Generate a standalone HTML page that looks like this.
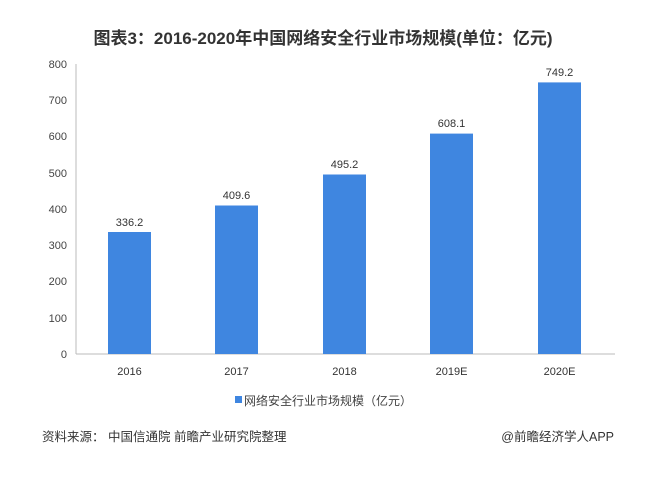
<!DOCTYPE html><html><head><meta charset="utf-8"><style>
body{margin:0;background:#fff;}
svg text{font-family:"Liberation Sans","Noto Sans CJK SC",sans-serif;}
</style></head><body>
<svg width="646" height="472" xmlns="http://www.w3.org/2000/svg">
<rect width="646" height="472" fill="#fff"/>
<text x="323" y="44" text-anchor="middle" font-size="17" font-weight="bold" fill="#333">图表3：2016-2020年中国网络安全行业市场规模(单位：亿元)</text>
<g font-size="11" fill="#444" text-anchor="end">
<text x="67" y="68">800</text><text x="67" y="104">700</text><text x="67" y="140">600</text><text x="67" y="177">500</text><text x="67" y="213">400</text><text x="67" y="249">300</text><text x="67" y="285">200</text><text x="67" y="322">100</text><text x="67" y="358">0</text>
</g>
<line x1="76" y1="64" x2="76" y2="354" stroke="#bbb"/>
<line x1="76" y1="354" x2="615" y2="354" stroke="#bbb"/>
<g fill="#3f86e0">
<rect x="108" y="232" width="43" height="122"/>
<rect x="215" y="205.5" width="43" height="148.5"/>
<rect x="323" y="174.5" width="43" height="179.5"/>
<rect x="430" y="133.6" width="43" height="220.4"/>
<rect x="538" y="82.4" width="43" height="271.6"/>
</g>
<g font-size="11" fill="#333" text-anchor="middle">
<text x="129.5" y="226">336.2</text><text x="236.5" y="199">409.6</text><text x="344.5" y="168">495.2</text><text x="451.5" y="127">608.1</text><text x="559.5" y="76">749.2</text>
<text x="129.5" y="375">2016</text><text x="236.5" y="375">2017</text><text x="344.5" y="375">2018</text><text x="451.5" y="375">2019E</text><text x="559.5" y="375">2020E</text>
</g>
<rect x="235" y="396" width="7" height="7" fill="#3f86e0"/>
<text x="244" y="405" font-size="12" fill="#444">网络安全行业市场规模（亿元）</text>
<text x="42" y="441" font-size="12.5" fill="#333">资料来源：  中国信通院 前瞻产业研究院整理</text>
<text x="614" y="441" font-size="12.5" fill="#333" text-anchor="end">@前瞻经济学人APP</text>
</svg>
</body></html>
